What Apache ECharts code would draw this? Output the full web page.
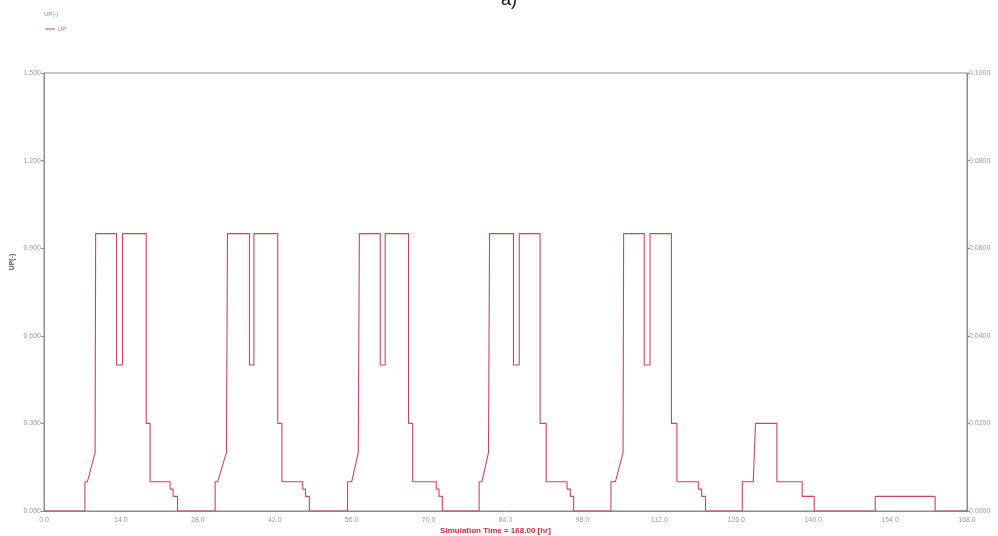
<!DOCTYPE html>
<html>
<head>
<meta charset="utf-8">
<script src="https://cdn.jsdelivr.net/npm/echarts@6/dist/echarts.min.js"></script>
<style>html,body{margin:0;padding:0;background:#fff}#c{width:998px;height:536px}</style>
</head>
<body>
<div id="c"></div>
<script>
// Tick labels
const xTicks = [0, 14, 28, 42, 56, 70, 84, 98, 112, 126, 140, 154, 168];
const leftTicks = [0, 0.3, 0.6, 0.9, 1.2, 1.5];
const rightTicks = [0, 0.02, 0.04, 0.06, 0.08, 0.1];

// Series vertices (time [hr], UP [-])
const timeHr = [
  0, 7.45, 7.45, 7.9, 9.3, 9.4, 9.4, 13.2, 13.2, 14.3, 14.3, 18.6, 18.6, 19.3, 19.3, 22.96, 22.96, 23.5, 23.5, 24.3, 24.3,
  31.15, 31.15, 31.6, 33.2, 33.4, 33.4, 37.4, 37.4, 38.2, 38.2, 42.55, 42.55, 43.3, 43.3, 47.1, 47.1, 47.6, 47.6, 48.3, 48.3,
  55.25, 55.25, 56.0, 57.2, 57.4, 57.4, 61.2, 61.2, 62.1, 62.1, 66.35, 66.35, 67.1, 67.1, 71.4, 71.4, 71.9, 71.9, 72.5, 72.5,
  79.2, 79.2, 79.7, 80.9, 81.1, 81.1, 85.45, 85.45, 86.5, 86.5, 90.3, 90.3, 91.4, 91.4, 95.2, 95.2, 95.8, 95.8, 96.4, 96.4,
  103.2, 103.2, 104.0, 105.4, 105.5, 105.5, 109.25, 109.25, 110.3, 110.3, 114.2, 114.2, 115.2, 115.2, 119.1, 119.1, 119.7, 119.7, 120.4, 120.4,
  127.1, 127.1, 129.1, 129.5, 133.4, 133.4, 138.0, 138.0, 140.2, 140.2,
  151.3, 151.3, 162.2, 162.2, 168
];
const valueUP = [
  0, 0, 0.1, 0.1, 0.2, 0.2, 0.95, 0.95, 0.5, 0.5, 0.95, 0.95, 0.3, 0.3, 0.1, 0.1, 0.075, 0.075, 0.05, 0.05, 0,
  0, 0.1, 0.1, 0.2, 0.2, 0.95, 0.95, 0.5, 0.5, 0.95, 0.95, 0.3, 0.3, 0.1, 0.1, 0.075, 0.075, 0.05, 0.05, 0,
  0, 0.1, 0.1, 0.2, 0.2, 0.95, 0.95, 0.5, 0.5, 0.95, 0.95, 0.3, 0.3, 0.1, 0.1, 0.075, 0.075, 0.05, 0.05, 0,
  0, 0.1, 0.1, 0.2, 0.2, 0.95, 0.95, 0.5, 0.5, 0.95, 0.95, 0.3, 0.3, 0.1, 0.1, 0.075, 0.075, 0.05, 0.05, 0,
  0, 0.1, 0.1, 0.2, 0.2, 0.95, 0.95, 0.5, 0.5, 0.95, 0.95, 0.3, 0.3, 0.1, 0.1, 0.075, 0.075, 0.05, 0.05, 0,
  0, 0.1, 0.1, 0.3, 0.3, 0.1, 0.1, 0.05, 0.05, 0,
  0, 0.05, 0.05, 0, 0
];

const seriesData = timeHr.map((t, i) => [t, valueUP[i]]);
const axisGray = '#8c8c8c';
const labelGray = '#9a9a9a';

const chart = echarts.init(document.getElementById('c'), null, {renderer: 'canvas'});
chart.setOption({
  animation: false,
  backgroundColor: '#fff',
  title: {
    text: 'a)', left: 496, top: -14,
    textStyle: {fontFamily: 'Liberation Sans', fontSize: 18, fontWeight: 'normal', color: '#111'}
  },
  graphic: [{
    type: 'text', left: 44, top: 11,
    style: {text: 'UP(-)', fontFamily: 'Liberation Sans', fontSize: 6, fill: '#888'}
  }, {
    type: 'text', x: 12, y: 262, rotation: Math.PI / 2,
    style: {text: 'UP(-)', fontFamily: 'Liberation Sans', fontSize: 7, fontWeight: 'bold', fill: '#555',
      align: 'center', verticalAlign: 'middle'}
  }],
  legend: {
    left: 40, top: 21, itemWidth: 10, itemHeight: 1, itemGap: 4,
    icon: 'rect',
    textStyle: {fontFamily: 'Liberation Sans', fontSize: 6, color: '#888', padding: [0, 0, 0, -2]},
    data: ['UP']
  },
  grid: {left: 44, right: 31, top: 73, bottom: 25, show: true, borderColor: axisGray, borderWidth: 1,
    outerBoundsMode: 'none', containLabel: false},
  xAxis: {
    type: 'value', min: 0, max: 168, interval: 14,
    name: 'Simulation Time = 168.00 [hr]', nameLocation: 'middle', nameGap: 16, nameMoveOverlap: false,
    nameTextStyle: {fontFamily: 'Liberation Sans', fontSize: 8, fontWeight: 'bold', color: '#c8283e', padding: [0, 20, 0, 0]},
    axisLine: {show: true, lineStyle: {color: axisGray}},
    axisTick: {show: false},
    splitLine: {show: false},
    axisLabel: {fontFamily: 'Liberation Sans', fontSize: 7, color: labelGray, margin: 6,
      formatter: v => v.toFixed(1)}
  },
  yAxis: [{
    type: 'value', min: 0, max: 1.5, interval: 0.3, position: 'left',
    axisLine: {show: true, lineStyle: {color: axisGray}},
    axisTick: {show: true, length: 3, inside: false, lineStyle: {color: axisGray}},
    splitLine: {show: false},
    axisLabel: {fontFamily: 'Liberation Sans', fontSize: 7, color: labelGray, margin: 3,
      formatter: v => v.toFixed(3)}
  }, {
    type: 'value', min: 0, max: 0.1, interval: 0.02, position: 'right',
    axisLine: {show: true, lineStyle: {color: axisGray}},
    axisTick: {show: true, length: 3, lineStyle: {color: axisGray}},
    splitLine: {show: false},
    axisLabel: {fontFamily: 'Liberation Sans', fontSize: 7, color: labelGray, margin: 2,
      formatter: v => v.toFixed(4)}
  }],
  series: [{
    name: 'UP', type: 'line', yAxisIndex: 0, data: seriesData,
    showSymbol: false, symbol: 'none',
    lineStyle: {color: '#c44a5c', width: 1.1},
    itemStyle: {color: '#c44a5c'}
  }]
});
</script>
</body>
</html>
